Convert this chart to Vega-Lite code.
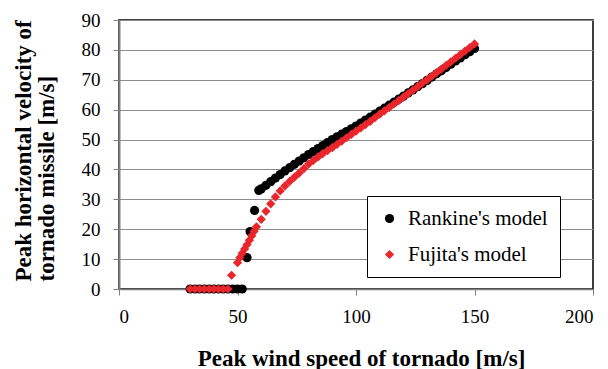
{"$schema":"https://vega.github.io/schema/vega-lite/v6.json","width":474,"height":269,"autosize":"none","padding":{"left":119,"top":20,"right":15,"bottom":80},"background":"white","config":{"view":{"stroke":"#000000","strokeWidth":1.5},"font":"Liberation Serif"},
"data":{"values":[
{"x":30,"y":0,"m":"R"},{"x":32,"y":0,"m":"R"},{"x":34,"y":0,"m":"R"},{"x":36,"y":0,"m":"R"},{"x":38,"y":0,"m":"R"},{"x":40,"y":0,"m":"R"},{"x":42,"y":0,"m":"R"},{"x":44,"y":0,"m":"R"},{"x":46,"y":0,"m":"R"},{"x":48,"y":0,"m":"R"},{"x":50,"y":0,"m":"R"},{"x":52,"y":0,"m":"R"},
{"x":54,"y":10.5,"m":"R"},{"x":55.3,"y":19.2,"m":"R"},{"x":57.2,"y":26.3,"m":"R"},{"x":59,"y":33,"m":"R"},
{"x":60,"y":33.5,"m":"R"},{"x":62,"y":34.7,"m":"R"},{"x":64,"y":35.9,"m":"R"},{"x":66,"y":37.1,"m":"R"},{"x":68,"y":38.3,"m":"R"},{"x":70,"y":39.5,"m":"R"},{"x":72,"y":40.6,"m":"R"},{"x":74,"y":41.7,"m":"R"},{"x":76,"y":42.8,"m":"R"},{"x":78,"y":43.9,"m":"R"},{"x":80,"y":45,"m":"R"},{"x":82,"y":46,"m":"R"},{"x":84,"y":47,"m":"R"},{"x":86,"y":48,"m":"R"},{"x":88,"y":49,"m":"R"},{"x":90,"y":50,"m":"R"},{"x":92,"y":50.9,"m":"R"},{"x":94,"y":51.8,"m":"R"},{"x":96,"y":52.7,"m":"R"},{"x":98,"y":53.6,"m":"R"},{"x":100,"y":54.5,"m":"R"},{"x":102,"y":55.5,"m":"R"},{"x":104,"y":56.5,"m":"R"},{"x":106,"y":57.5,"m":"R"},{"x":108,"y":58.5,"m":"R"},{"x":110,"y":59.5,"m":"R"},{"x":112,"y":60.5,"m":"R"},{"x":114,"y":61.5,"m":"R"},{"x":116,"y":62.5,"m":"R"},{"x":118,"y":63.5,"m":"R"},{"x":120,"y":64.5,"m":"R"},{"x":122,"y":65.6,"m":"R"},{"x":124,"y":66.6,"m":"R"},{"x":126,"y":67.7,"m":"R"},{"x":128,"y":68.7,"m":"R"},{"x":130,"y":69.8,"m":"R"},{"x":132,"y":70.9,"m":"R"},{"x":134,"y":72,"m":"R"},{"x":136,"y":73,"m":"R"},{"x":138,"y":74.1,"m":"R"},{"x":140,"y":75.2,"m":"R"},{"x":142,"y":76.3,"m":"R"},{"x":144,"y":77.3,"m":"R"},{"x":146,"y":78.4,"m":"R"},{"x":148,"y":79.4,"m":"R"},{"x":150,"y":80.5,"m":"R"},
{"x":30,"y":0,"m":"F"},{"x":32,"y":0,"m":"F"},{"x":34,"y":0,"m":"F"},{"x":36,"y":0,"m":"F"},{"x":38,"y":0,"m":"F"},{"x":40,"y":0,"m":"F"},{"x":42,"y":0,"m":"F"},{"x":44,"y":0,"m":"F"},{"x":46,"y":0,"m":"F"},
{"x":47.5,"y":4.6,"m":"F"},{"x":50,"y":8.8,"m":"F"},{"x":51,"y":10.5,"m":"F"},{"x":52,"y":12,"m":"F"},{"x":53,"y":13.4,"m":"F"},{"x":54,"y":14.8,"m":"F"},{"x":55,"y":16.3,"m":"F"},{"x":56,"y":17.8,"m":"F"},{"x":57,"y":19.3,"m":"F"},{"x":58,"y":20.8,"m":"F"},
{"x":60,"y":23.3,"m":"F"},{"x":62,"y":26,"m":"F"},{"x":64,"y":28.5,"m":"F"},{"x":66,"y":30.8,"m":"F"},{"x":68,"y":32.8,"m":"F"},{"x":70,"y":34.5,"m":"F"},{"x":72,"y":36,"m":"F"},{"x":74,"y":37.4,"m":"F"},{"x":76,"y":38.8,"m":"F"},{"x":78,"y":40.3,"m":"F"},{"x":80,"y":41.8,"m":"F"},{"x":82,"y":43,"m":"F"},{"x":84,"y":44.2,"m":"F"},{"x":86,"y":45.3,"m":"F"},{"x":88,"y":46.3,"m":"F"},{"x":90,"y":47.3,"m":"F"},{"x":92,"y":48.4,"m":"F"},{"x":94,"y":49.5,"m":"F"},{"x":96,"y":50.6,"m":"F"},{"x":98,"y":51.7,"m":"F"},{"x":100,"y":52.8,"m":"F"},{"x":102,"y":53.9,"m":"F"},{"x":104,"y":55,"m":"F"},{"x":106,"y":56.1,"m":"F"},{"x":108,"y":57.3,"m":"F"},{"x":110,"y":58.5,"m":"F"},{"x":112,"y":59.6,"m":"F"},{"x":114,"y":60.7,"m":"F"},{"x":116,"y":61.9,"m":"F"},{"x":118,"y":63,"m":"F"},{"x":120,"y":64.2,"m":"F"},{"x":122,"y":65.4,"m":"F"},{"x":124,"y":66.5,"m":"F"},{"x":126,"y":67.7,"m":"F"},{"x":128,"y":68.9,"m":"F"},{"x":130,"y":70,"m":"F"},{"x":132,"y":71.2,"m":"F"},{"x":134,"y":72.4,"m":"F"},{"x":136,"y":73.6,"m":"F"},{"x":138,"y":74.8,"m":"F"},{"x":140,"y":76,"m":"F"},{"x":142,"y":77.2,"m":"F"},{"x":144,"y":78.4,"m":"F"},{"x":146,"y":79.6,"m":"F"},{"x":148,"y":80.8,"m":"F"},{"x":150,"y":82,"m":"F"}
]},
"mark":{"type":"point","filled":true,"size":85,"opacity":1},
"encoding":{
"x":{"field":"x","type":"quantitative","scale":{"domain":[0,200],"nice":false},"axis":{"values":[0,50,100,150,200],"grid":false,"domainColor":"#808080","domainWidth":1.5,"tickColor":"#808080","tickSize":6,"labelFontSize":19,"labelColor":"#000000","labelBaseline":"alphabetic","labelPadding":27,"title":"Peak wind speed of tornado [m/s]","titleFontSize":23,"titleColor":"#000000","titleX":242,"titleY":76,"titleBaseline":"alphabetic"}},
"y":{"field":"y","type":"quantitative","scale":{"domain":[0,90],"nice":false},"axis":{"values":[0,10,20,30,40,50,60,70,80,90],"grid":true,"gridColor":"#8c8c8c","gridWidth":1,"domainColor":"#808080","domainWidth":2,"tickColor":"#808080","tickSize":6,"labelFontSize":19,"labelColor":"#000000","labelPadding":13,"title":["Peak horizontal velocity of","tornado missile [m/s]"],"titleFontSize":23,"titleColor":"#000000","titleAngle":-90,"titleAlign":"left","titleBaseline":"alphabetic","titleX":-89,"titleY":261,"titleLineHeight":23}},
"shape":{"field":"m","type":"nominal","scale":{"domain":["R","F"],"range":["circle","diamond"]},"legend":{"title":null,"orient":"none","legendX":248,"legendY":176,"padding":12,"labelOffset":8,"rowPadding":14,"labelFontSize":21,"labelColor":"#000000","strokeColor":"#000000","fillColor":"#ffffff","symbolSize":85,"labelExpr":"datum.label == 'R' ? \"Rankine's model\" : \"Fujita's model\""}},
"color":{"field":"m","type":"nominal","scale":{"domain":["R","F"],"range":["#000000","#e8262c"]},"legend":{"title":null}}
}}
